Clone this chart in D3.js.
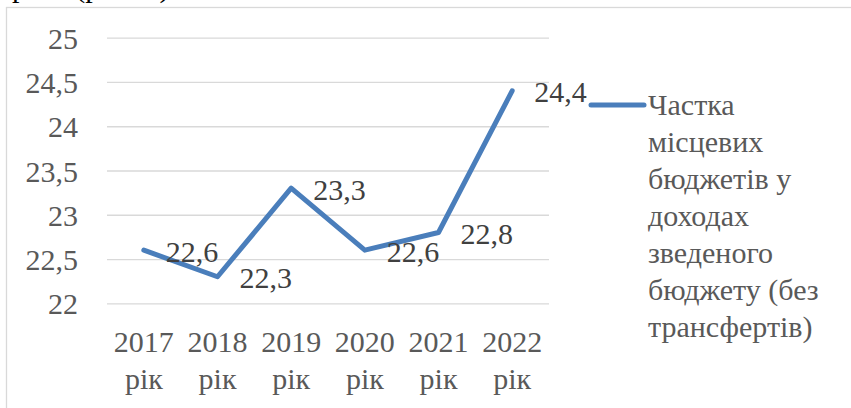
<!DOCTYPE html>
<html>
<head>
<meta charset="utf-8">
<script src="https://cdn.jsdelivr.net/npm/d3@7"></script>
</head>
<body style="margin:0">
<svg id="chart" width="851" height="408"></svg>
<script>
const years   = ["2017", "2018", "2019", "2020", "2021", "2022"],
      values  = [22.6, 22.3, 23.3, 22.6, 22.8, 24.4],
      yTicks  = [22, 22.5, 23, 23.5, 24, 24.5, 25],
      seriesName = ["Частка", "місцевих", "бюджетів у", "доходах", "зведеного", "бюджету (без", "трансфертів)"];

const FONT = '"Liberation Serif"';

const svg    = d3.select("#chart"),
      plot   = {left: 107, right: 549, top: 37.7, bottom: 303.3},
      x      = d3.scaleBand().domain(years).range([plot.left, plot.right]).padding(0),
      y      = d3.scaleLinear().domain([22, 25]).range([plot.bottom, plot.top]),
      uaFmt  = d3.formatLocale({decimal: ",", thousands: " ", grouping: [3], currency: ["", ""]}).format(",.2~f");

// document text above the chart, cut by the top edge
svg.append("text")
    .attr("x", 12)
    .attr("y", -3)
    .attr("fill", "#000")
    .style("font-family", FONT)
    .style("font-size", "30px")
    .text("рамі (рис. 3).");

// chart frame
svg.append("rect")
    .attr("x", 6.5).attr("y", 7.5).attr("width", 870).attr("height", 430)
    .attr("fill", "none").attr("stroke", "#d9d9d9").attr("stroke-width", 1.3);

// gridlines + y labels
const yAxis = svg.append("g")
    .attr("transform", `translate(${plot.left},0)`)
    .call(d3.axisLeft(y).tickValues(yTicks).tickFormat(uaFmt).tickSize(-(plot.right - plot.left)).tickPadding(29));
yAxis.select(".domain").remove();
yAxis.selectAll(".tick line").attr("stroke", "#d9d9d9").attr("stroke-width", 1.3);
yAxis.selectAll(".tick text")
    .attr("fill", "#595959")
    .attr("dy", "10.6px")
    .style("font-family", FONT)
    .style("font-size", "30px");

// x labels (two lines)
const xAxis = svg.append("g")
    .attr("transform", `translate(0,${plot.bottom})`)
    .call(d3.axisBottom(x).tickSize(0).tickFormat(""));
xAxis.select(".domain").remove();
xAxis.selectAll(".tick").each(function(d) {
  const t = d3.select(this).append("text")
      .attr("text-anchor", "middle")
      .attr("fill", "#595959")
      .style("font-family", FONT)
      .style("font-size", "30px");
  t.append("tspan").attr("x", 0).attr("y", 48.4).text(d);
  t.append("tspan").attr("x", 0).attr("y", 86).text("рік");
});

// series line
const pts = years.map((d, i) => ({year: d, value: values[i]}));

svg.append("path")
    .datum(pts)
    .attr("fill", "none")
    .attr("stroke", "#4a7ebb")
    .attr("stroke-width", 5)
    .attr("stroke-linejoin", "round")
    .attr("stroke-linecap", "round")
    .attr("d", d3.line().x(d => x(d.year) + x.bandwidth() / 2).y(d => y(d.value)));

// data labels, to the right of each point
svg.selectAll(".label")
  .data(pts)
  .enter().append("text")
    .attr("class", "label")
    .attr("x", d => x(d.year) + x.bandwidth() / 2 + 22)
    .attr("y", d => y(d.value) + 11.5)
    .attr("fill", "#404040")
    .style("font-family", FONT)
    .style("font-size", "30px")
    .text(d => uaFmt(d.value));

// legend
svg.append("line")
    .attr("x1", 591).attr("x2", 644).attr("y1", 105).attr("y2", 105)
    .attr("stroke", "#4a7ebb").attr("stroke-width", 5).attr("stroke-linecap", "round");

svg.selectAll(".leg")
  .data(seriesName)
  .enter().append("text")
    .attr("class", "leg")
    .attr("x", 648)
    .attr("y", (d, i) => 115 + i * 37)
    .attr("fill", "#595959")
    .style("font-family", FONT)
    .style("font-size", "30px")
    .text(d => d);
</script>
</body>
</html>
